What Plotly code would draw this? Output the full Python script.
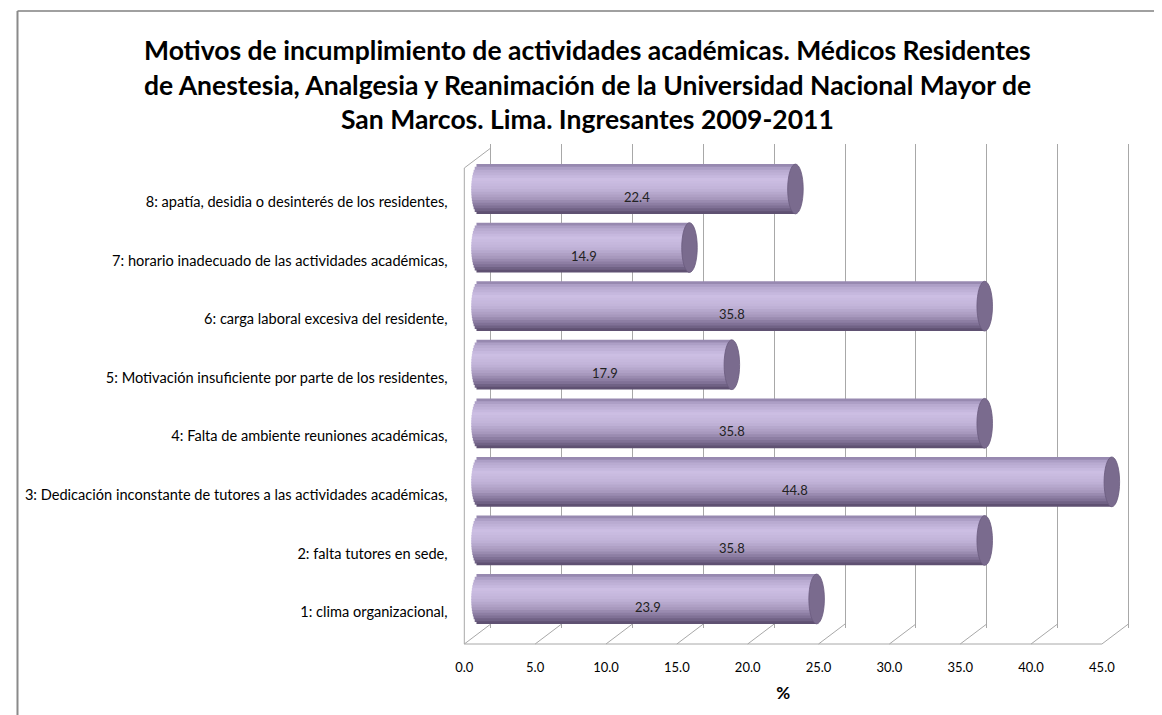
import math

import plotly.graph_objects as go

categorias = [
    "1: clima organizacional,",
    "2: falta tutores en sede,",
    "3: Dedicación inconstante de tutores a las actividades académicas,",
    "4: Falta de ambiente reuniones académicas,",
    "5: Motivación insuficiente por parte de los residentes,",
    "6: carga laboral excesiva del residente,",
    "7: horario inadecuado de las actividades académicas,",
    "8: apatía, desidia o desinterés de los residentes,",
]
porcentajes = [23.9, 35.8, 44.8, 35.8, 17.9, 35.8, 14.9, 22.4]
ticks_x = [0, 5, 10, 15, 20, 25, 30, 35, 40, 45]
titulo = [
    "Motivos de incumplimiento de actividades académicas. Médicos Residentes",
    "de Anestesia, Analgesia y Reanimación de la Universidad Nacional Mayor de",
    "San Marcos. Lima. Ingresantes 2009-2011",
]
titulo_x = "%"

# la pagina tiene 8px de margen en el body: se trabaja en pixeles de pagina
M = 8
W, H = 1162 - M, 715 - M
FONT = "Lato"
GRID = "#a8a8a8"


def fx(p):
    return (p - M) / W


def fy(p):
    return 1 - (p - M) / H


def eje(p0, p1, v0, v1, pad, vertical=False):
    # domain/range para que el pixel p0 muestre v0 y el pixel p1 muestre v1
    k = (v1 - v0) / (p1 - p0)
    lo, hi = min(p0, p1) - pad, max(p0, p1) + pad
    rango = sorted([v0 + (lo - p0) * k, v0 + (hi - p0) * k])
    dom = [fy(hi), fy(lo)] if vertical else [fx(lo), fx(hi)]
    return dom, rango


pos = list(range(1, len(categorias) + 1))

# caja 3D: pared del fondo, piso y pared izquierda
dx = 27 / (650 / 45)      # profundidad en unidades del eje frontal
dy = 20 / 496             # profundidad en fraccion de la altura de la pared

fig = go.Figure()

# pared del fondo (solo lineas de division)
fig.add_trace(go.Scatter(x=[None], y=[None], xaxis="x", yaxis="y",
                         showlegend=False, hoverinfo="skip"))

# piso + pared izquierda
lx, ly = [0, 45, None], [0, 0, None]
for t in ticks_x:
    lx += [t, t + dx, None]
    ly += [0, dy, None]
lx += [0, 0, dx]
ly += [0, 1 - dy, 1]
fig.add_trace(go.Scatter(x=lx, y=ly, mode="lines", xaxis="x2", yaxis="y2",
                         line=dict(color=GRID, width=1), showlegend=False,
                         hoverinfo="skip"))

# ejes con etiquetas
fig.add_trace(go.Scatter(x=[None], y=[None], xaxis="x3", yaxis="y3",
                         showlegend=False, hoverinfo="skip"))

# cilindros: franjas horizontales con degradado
perfil = [(0.0, (140, 126, 165)), (0.1, (180, 166, 205)), (0.3, (204, 190, 227)),
          (0.5, (194, 180, 217)), (0.7, (166, 151, 188)), (0.88, (124, 109, 146)),
          (1.0, (86, 72, 104))]


def color_en(t):
    for (t0, c0), (t1, c1) in zip(perfil, perfil[1:]):
        if t <= t1:
            f = (t - t0) / (t1 - t0)
            return "rgb(%d,%d,%d)" % tuple(round(a + (b - a) * f) for a, b in zip(c0, c1))
    return "rgb(%d,%d,%d)" % perfil[-1][1]


N = 18
BAR_W = 0.85
A = 0.55
w = BAR_W / N
for i in range(N):
    t = (i + 0.5) / N
    u = 1 - 2 * t
    s = math.sqrt(max(0.0, 1 - u * u))
    extra = w * 0.3 if i < N - 1 else 0
    fig.add_trace(go.Bar(
        y=pos, x=[v + A * s for v in porcentajes], base=[-A * s] * len(pos),
        orientation="h", xaxis="x4", yaxis="y4",
        width=w + extra, offset=BAR_W / 2 - (i + 1) * w - extra,
        marker=dict(color=color_en(t), line=dict(width=0)),
        showlegend=False, hoverinfo="skip",
    ))

shapes = [
    dict(type="line", xref="paper", yref="paper", x0=0.5 / W, x1=1.02,
         y0=fy(11), y1=fy(11), line=dict(color="#a0a0a0", width=2)),
    dict(type="line", xref="paper", yref="paper", x0=0.5 / W, x1=0.5 / W,
         y0=fy(11), y1=-0.02, line=dict(color="#8a8a8a", width=2)),
]
for p, v in zip(pos, porcentajes):
    shapes.append(dict(type="circle", xref="x4", yref="y4", x0=v - A, x1=v + A,
                       y0=p - BAR_W / 2, y1=p + BAR_W / 2, fillcolor="#7a6b8e",
                       line=dict(color="#6a5b7e", width=0.8), layer="above"))

anotaciones = []
for p, v in zip(pos, porcentajes):
    anotaciones.append(dict(x=v / 2, y=p, xref="x4", yref="y4", yshift=-8,
                            text="%.1f" % v, showarrow=False,
                            font=dict(family=FONT, size=13, color="#222222")))
for linea, yy in zip(titulo, [50, 85, 119]):
    anotaciones.append(dict(x=fx(590), y=fy(yy), xref="paper", yref="paper",
                            text="<b>%s</b>" % linea, showarrow=False,
                            xanchor="center", yanchor="middle",
                            font=dict(family=FONT, size=26.5, color="#000000")))

d1x, r1x = eje(491, 1141, 0, 45, 4)
d1y, r1y = eje(624, 148, 0, 1, 4, vertical=True)
d2x, r2x = eje(464, 1141, 0, 45 + dx, 4)
d2y, r2y = eje(644, 148, 0, 1, 4, vertical=True)
d3x, r3x = eje(464, 1114, 0, 45, 0)
d3y, r3y = eje(612, 202, 1, 8, 29, vertical=True)
d4x, r4x = eje(479, 1127, 0, 45, 20)
d4y, r4y = eje(599, 189, 1, 8, 40, vertical=True)

oculto = dict(visible=False, fixedrange=True)
fig.update_layout(
    width=W, height=H, autosize=False,
    margin=dict(l=0, r=0, t=0, b=0),
    paper_bgcolor="white", plot_bgcolor="rgba(0,0,0,0)",
    barmode="overlay", showlegend=False,
    font=dict(family=FONT, color="#000000"),
    xaxis=dict(domain=d1x, range=r1x, anchor="y", tickvals=ticks_x,
               showgrid=True, gridcolor=GRID, gridwidth=1, zeroline=False,
               showticklabels=False, ticks="", showline=False),
    yaxis=dict(domain=d1y, range=r1y, anchor="x", **oculto),
    xaxis2=dict(domain=d2x, range=r2x, anchor="y2", **oculto),
    yaxis2=dict(domain=d2y, range=r2y, anchor="x2", **oculto),
    xaxis3=dict(domain=d3x, range=r3x, anchor="free", position=fy(644),
                tickvals=ticks_x, tickformat=".1f", ticks="", showline=False,
                showgrid=False, zeroline=False, ticklabelstandoff=14,
                tickfont=dict(family=FONT, size=13, color="#000000"),
                title=dict(text="<b>%s</b>" % titulo_x, standoff=13,
                           font=dict(family=FONT, size=17, color="#000000"))),
    yaxis3=dict(domain=d3y, range=r3y, anchor="free", position=fx(447),
                tickvals=pos, ticktext=categorias, ticks="", showline=False,
                showgrid=False, zeroline=False,
                tickfont=dict(family=FONT, size=14.6, color="#000000")),
    xaxis4=dict(domain=d4x, range=r4x, anchor="y4", **oculto),
    yaxis4=dict(domain=d4y, range=r4y, anchor="x4", **oculto),
    shapes=shapes,
    annotations=anotaciones,
)

fig.write_html("out.html")
